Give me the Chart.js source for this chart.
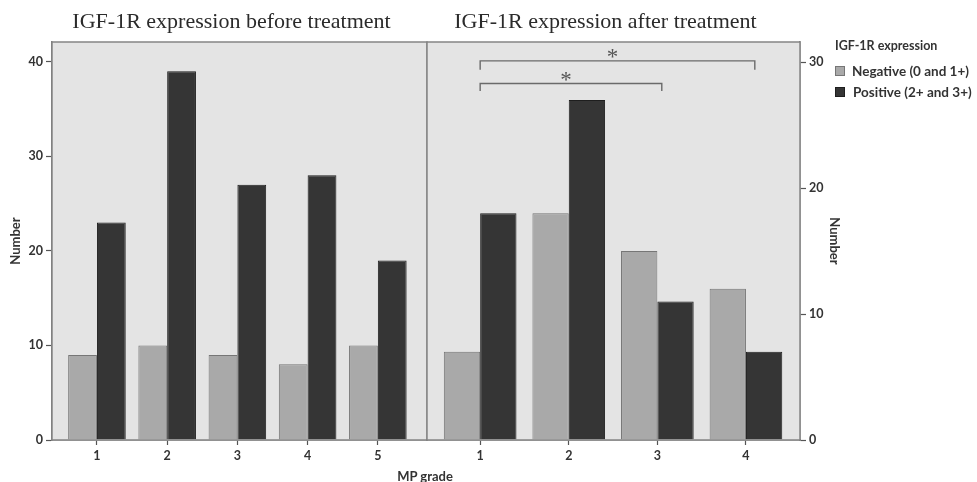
<!DOCTYPE html>
<html>
<head>
<meta charset="utf-8">
<script src="https://cdn.jsdelivr.net/npm/chart.js@4.4.1/dist/chart.umd.min.js"></script>
<style>
  body { margin: 0; background: #fff; width: 977px; height: 482px; position: relative; overflow: hidden; }
  canvas { position: absolute; top: 0; }
  #c-before { left: 0; }
  #c-after { left: 420px; }
  #x-title { position: absolute; left: 375px; width: 100px; top: 468px; text-align: center;
             font: bold 13px Lato, sans-serif; color: #333; }
</style>
</head>
<body>
<canvas id="c-before" width="440" height="482"></canvas>
<canvas id="c-after" width="557" height="482"></canvas>
<div id="x-title">MP grade</div>
<script>
// data
const gradesBefore = [1, 2, 3, 4, 5];
const negBefore = [9, 10, 9, 8, 10];
const posBefore = [23, 39, 27, 28, 19];

const gradesAfter = [1, 2, 3, 4];
const negAfter = [7, 18, 15, 12];
const posAfter = [18, 27, 11, 7];

const yTicksBefore = [0, 10, 20, 30, 40];
const yTicksAfter = [0, 10, 20, 30];

const seriesLabels = ['Negative (0 and 1+)', 'Positive (2+ and 3+)'];
const legendTitle = 'IGF-1R expression';

// significance brackets on the "after" panel (grade from / to, value of bar line, value of ends)
const bracketFrom = [1, 1];
const bracketTo = [4.1, 3.05];
const bracketTop = [30.1, 28.3];
const bracketEnd = [29.4, 27.7];

const NEG_FILL = '#a9a9a9', NEG_LINE = '#767676';
const POS_FILL = '#353535', POS_LINE = '#1e1e1e';

Chart.defaults.font.family = 'Lato, sans-serif';
Chart.defaults.font.weight = 'bold';
Chart.defaults.font.size = 12;
Chart.defaults.color = '#333';

const toXY = (xs, ys) => xs.map((x, i) => ({ x: x, y: ys[i] }));

// grey panel behind the bars plus its frame
const panelBg = {
  id: 'panelBg',
  beforeDatasetsDraw(chart) {
    const { ctx, chartArea: a } = chart;
    ctx.save();
    ctx.fillStyle = '#e4e4e4';
    ctx.fillRect(a.left, a.top, a.right - a.left, a.bottom - a.top);
    ctx.restore();
  },
  afterDraw(chart) {
    const { ctx, chartArea: a } = chart;
    ctx.save();
    ctx.strokeStyle = '#858585';
    ctx.lineWidth = 1.5;
    ctx.strokeRect(a.left, a.top, a.right - a.left, a.bottom - a.top);
    ctx.restore();
  }
};

// serif heading above each panel
const panelTitle = {
  id: 'panelTitle',
  afterDraw(chart, args, opts) {
    const { ctx, chartArea: a } = chart;
    ctx.save();
    ctx.font = '22px "Liberation Serif", "Times New Roman", serif';
    ctx.fillStyle = '#2b2b2b';
    ctx.textAlign = 'center';
    ctx.textBaseline = 'alphabetic';
    ctx.fillText(opts.text, (a.left + a.right) / 2 - 8, 28);
    ctx.restore();
  }
};

const brackets = {
  id: 'brackets',
  afterDatasetsDraw(chart) {
    const { ctx, scales: { x, y } } = chart;
    ctx.save();
    ctx.strokeStyle = '#6a6a6a';
    ctx.lineWidth = 1.4;
    ctx.fillStyle = '#555';
    ctx.font = '23px "Liberation Serif", serif';
    ctx.textAlign = 'center';
    ctx.textBaseline = 'middle';
    bracketFrom.forEach((from, i) => {
      const x1 = x.getPixelForValue(from);
      const x2 = x.getPixelForValue(bracketTo[i]);
      const yt = y.getPixelForValue(bracketTop[i]);
      const ye = y.getPixelForValue(bracketEnd[i]);
      ctx.beginPath();
      ctx.moveTo(x1, ye);
      ctx.lineTo(x1, yt);
      ctx.lineTo(x2, yt);
      ctx.lineTo(x2, ye);
      ctx.stroke();
      ctx.fillText('*', (x1 + x2) / 2 - 5, yt - 3);
    });
    ctx.restore();
  }
};

const sideLegend = {
  id: 'sideLegend',
  afterDraw(chart) {
    const ctx = chart.ctx;
    const lx = 415;
    ctx.save();
    ctx.fillStyle = '#333';
    ctx.font = 'bold 12.5px Lato, sans-serif';
    ctx.textBaseline = 'alphabetic';
    ctx.fillText(legendTitle, lx, 50);
    chart.data.datasets.forEach((ds, i) => {
      const top = 66 + i * 21;
      ctx.fillStyle = ds.backgroundColor;
      ctx.fillRect(lx, top, 10, 10);
      ctx.strokeStyle = ds.borderColor;
      ctx.lineWidth = 1;
      ctx.strokeRect(lx + 0.5, top + 0.5, 9, 9);
      ctx.fillStyle = '#333';
      ctx.font = 'bold 13.5px Lato, sans-serif';
      ctx.fillText(ds.label, lx + 17 + i, top + 10);
    });
    ctx.restore();
  }
};

function makeDatasets(grades, neg, pos) {
  return [
    { label: seriesLabels[0], data: toXY(grades, neg), backgroundColor: NEG_FILL, borderColor: NEG_LINE, borderWidth: 1 },
    { label: seriesLabels[1], data: toXY(grades, pos), backgroundColor: POS_FILL, borderColor: POS_LINE, borderWidth: 1 }
  ];
}

function xScale(grades, min, max) {
  return {
    type: 'linear', min: min, max: max, offset: false,
    grid: { offset: false, drawOnChartArea: false, tickLength: 5, color: '#555', tickWidth: 1.2 },
    border: { color: '#777', width: 1.5 },
    ticks: { padding: 3, color: '#333', font: { size: 12.5 } },
    afterBuildTicks: s => { s.ticks = grades.map(v => ({ value: v })); },
    afterFit: s => { s.height = 42; }
  };
}

function yScale(ticks, max, position, width) {
  return {
    position: position, min: 0, max: max,
    grid: { drawOnChartArea: false, tickLength: 6, color: '#555', tickWidth: 1.2 },
    border: { color: '#777', width: 1.5 },
    ticks: { padding: 3, color: '#333', font: { size: 12.5 } },
    title: { display: true, text: 'Number', color: '#333', font: { size: 13, weight: 'bold' },
             padding: { top: position === 'left' ? 8 : 4, bottom: 4 } },
    afterBuildTicks: s => { s.ticks = ticks.map(v => ({ value: v })); },
    afterFit: s => { s.width = width; }
  };
}

new Chart(document.getElementById('c-before'), {
  type: 'bar',
  data: { datasets: makeDatasets(gradesBefore, negBefore, posBefore) },
  options: {
    responsive: false,
    animation: false,
    layout: { padding: { top: 42, right: 13, left: 0, bottom: 0 } },
    datasets: { bar: { categoryPercentage: 0.82, barPercentage: 1 } },
    plugins: {
      legend: { display: false },
      tooltip: { enabled: false },
      panelTitle: { text: 'IGF-1R expression before treatment' }
    },
    scales: {
      x: xScale(gradesBefore, 0.36, 5.7),
      y: yScale(yTicksBefore, 42.1, 'left', 52)
    }
  },
  plugins: [panelBg, panelTitle]
});

new Chart(document.getElementById('c-after'), {
  type: 'bar',
  data: { datasets: makeDatasets(gradesAfter, negAfter, posAfter) },
  options: {
    responsive: false,
    animation: false,
    layout: { padding: { top: 42, right: 131, left: 7, bottom: 0 } },
    datasets: { bar: { categoryPercentage: 0.82, barPercentage: 1 } },
    plugins: {
      legend: { display: false },
      tooltip: { enabled: false },
      panelTitle: { text: 'IGF-1R expression after treatment' }
    },
    scales: {
      x: xScale(gradesAfter, 0.4, 4.61),
      y: yScale(yTicksAfter, 31.6, 'right', 46)
    }
  },
  plugins: [panelBg, panelTitle, brackets, sideLegend]
});
</script>
</body>
</html>
